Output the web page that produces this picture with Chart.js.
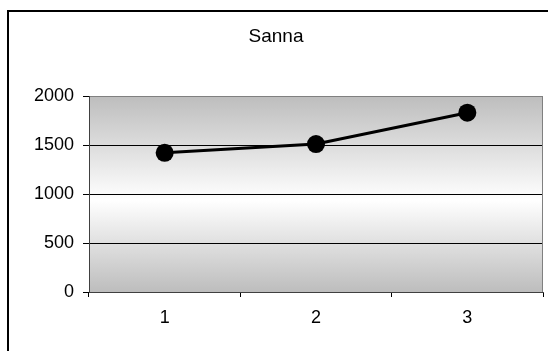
<!DOCTYPE html>
<html>
<head>
<meta charset="utf-8">
<script src="https://cdn.jsdelivr.net/npm/chart.js@4/dist/chart.umd.min.js"></script>
<style>
  html, body { margin: 0; padding: 0; overflow: hidden; background: #fff; width: 548px; height: 351px; }
  #box { position: absolute; left: 7px; top: 10px; width: 557px; height: 345px; border: 2px solid #000; }
</style>
</head>
<body>
<div id="box"><canvas id="myChart" width="557" height="345"></canvas></div>
<script>
const categories = ["1", "2", "3"];
const sannaValues = [1420, 1510, 1830];
const yTicks = [0, 500, 1000, 1500, 2000];

const FONT = "'Liberation Sans', Arial, sans-serif";

// grey gradient behind the plot, plus the grey frame on the right
const plotBackground = {
  id: "plotBackground",
  beforeDraw(chart) {
    const { ctx, chartArea: a } = chart;
    const g = ctx.createLinearGradient(0, a.top, 0, a.bottom);
    g.addColorStop(0, "#bdbdbd");
    g.addColorStop(0.53, "#ffffff");
    g.addColorStop(1, "#bdbdbd");
    ctx.save();
    ctx.fillStyle = g;
    ctx.fillRect(a.left, a.top, a.right - a.left, a.bottom - a.top);
    ctx.restore();
  },
  afterDraw(chart) {
    const { ctx, chartArea: a } = chart;
    ctx.save();
    ctx.strokeStyle = "#808080";
    ctx.lineWidth = 1;
    ctx.beginPath();
    ctx.moveTo(a.right - 0.5, a.top);
    ctx.lineTo(a.right - 0.5, a.bottom);
    ctx.stroke();
    ctx.restore();
  }
};

const ctx = document.getElementById("myChart").getContext("2d");
window.myChartInstance = new Chart(ctx, {
  type: "line",
  data: {
    labels: categories,
    datasets: [{
      label: "Sanna",
      data: sannaValues,
      borderColor: "#000",
      borderWidth: 3,
      pointRadius: 9,
      pointBackgroundColor: "#000",
      pointBorderWidth: 0,
      tension: 0,
      fill: false
    }]
  },
  options: {
    responsive: false,
    animation: false,
    devicePixelRatio: 1,
    layout: { padding: { left: 0, right: 23, top: 0, bottom: 0 } },
    plugins: {
      legend: { display: false },
      tooltip: { enabled: false },
      title: {
        display: true,
        text: "Sanna",
        color: "#000",
        font: { family: FONT, size: 19, weight: "normal", lineHeight: 1.2 },
        padding: { top: 13.6, bottom: 47.6 }
      }
    },
    scales: {
      x: {
        offset: true,
        grid: { offset: true, drawOnChartArea: false, drawTicks: true, tickLength: 5, color: "#000" },
        border: { color: "#404040", width: 1 },
        ticks: { color: "#000", font: { family: FONT, size: 18 }, padding: 10, maxRotation: 0 },
        afterFit: (s) => { s.height = 65; }
      },
      y: {
        min: 0,
        max: 2000,
        afterBuildTicks: (s) => { s.ticks = yTicks.map(v => ({ value: v })); },
        grid: {
          color: (c) => (c.tick && c.tick.value === 2000 ? "#808080" : "#000"),
          tickColor: "#000",
          tickLength: 6
        },
        border: { color: "#404040", width: 1 },
        ticks: { color: "#000", font: { family: FONT, size: 18 }, padding: 9, callback: (v) => String(v) },
        afterFit: (s) => { s.width = 80; }
      }
    }
  },
  plugins: [plotBackground]
});
</script>
</body>
</html>
